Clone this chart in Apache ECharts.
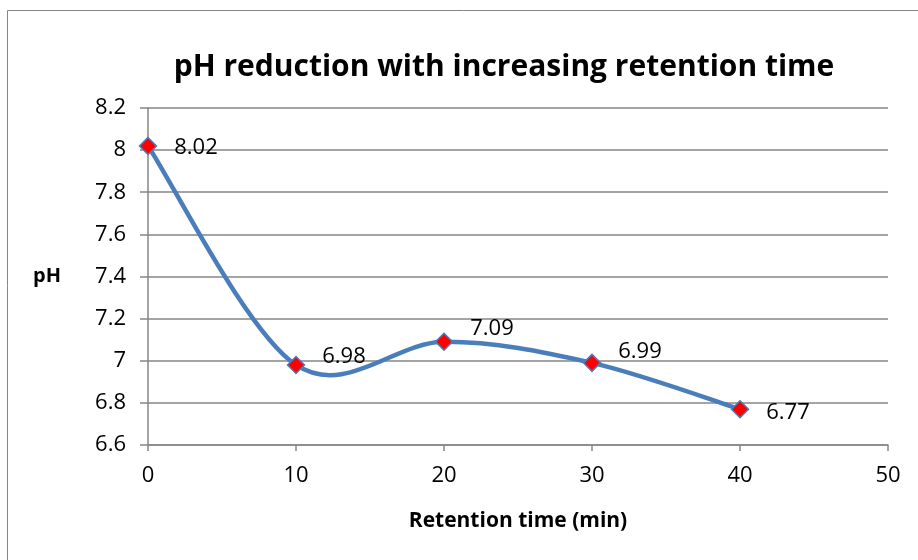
<!DOCTYPE html>
<html><head><meta charset="utf-8">
<script src="https://cdn.jsdelivr.net/npm/echarts@6/dist/echarts.min.js"></script>
<style>html,body{margin:0;padding:0;background:#fff}#c{width:918px;height:560px}</style>
</head><body><div id="c"></div>
<script>
const times = [0, 10, 20, 30, 40];
const phValues = [8.02, 6.98, 7.09, 6.99, 6.77];
const labelOffsets = [[0, 2], [0, -8], [0, -13], [0, -11], [0, 4]];
const titleText = 'pH reduction with increasing retention time';
const xName = 'Retention time (min)';
const yName = 'pH';

const chart = echarts.init(document.getElementById('c'), null, {renderer: 'canvas'});
const font = '"Open Sans", "Liberation Sans", sans-serif';
const pairs = times.map((t, i) => [t, phValues[i]]);
const data = pairs.map((p, i) => ({value: p, label: {offset: labelOffsets[i]}}));

// Excel-style smoothed line: Catmull-Rom bezier through pixel positions from the axes
function renderCurve(params, api) {
  if (params.dataIndex !== 0) return null;
  const pts = pairs.map(p => api.coord(p));
  const n = pts.length;
  let d = 'M' + pts[0][0] + ' ' + pts[0][1];
  for (let i = 0; i < n - 1; i++) {
    const p0 = pts[Math.max(i - 1, 0)], p1 = pts[i], p2 = pts[i + 1], p3 = pts[Math.min(i + 2, n - 1)];
    const c1 = [p1[0] + (p2[0] - p0[0]) / 6, p1[1] + (p2[1] - p0[1]) / 6];
    const c2 = [p2[0] - (p3[0] - p1[0]) / 6, p2[1] - (p3[1] - p1[1]) / 6];
    d += ' C' + c1[0] + ' ' + c1[1] + ' ' + c2[0] + ' ' + c2[1] + ' ' + p2[0] + ' ' + p2[1];
  }
  return {type: 'path', shape: {pathData: d},
    style: {fill: 'none', stroke: '#4a7ebb', lineWidth: 4.5, lineCap: 'round', lineJoin: 'round'}};
}

chart.setOption({
  animation: false,
  backgroundColor: '#fff',
  graphic: [{type: 'rect', shape: {x: 7.5, y: 10.5, width: 940, height: 600}, style: {fill: 'none', stroke: '#868686', lineWidth: 1}}],
  title: {text: titleText, left: 499, top: 47, textAlign: 'center',
    textStyle: {fontFamily: font, fontWeight: 'bold', fontSize: 30, color: '#000'}},
  grid: {left: 148, right: 30, top: 108, bottom: 115},
  xAxis: {type: 'value', min: 0, max: 50, interval: 10,
    name: xName, nameLocation: 'middle', nameGap: 66,
    nameTextStyle: {fontFamily: font, fontWeight: 'bold', fontSize: 21, color: '#000'},
    axisLine: {lineStyle: {color: '#868686', width: 1.5}},
    axisTick: {show: true, length: 6, lineStyle: {color: '#868686', width: 1.5}},
    axisLabel: {fontFamily: font, fontSize: 22, color: '#000', margin: 20},
    splitLine: {show: false}},
  yAxis: {type: 'value', min: 6.6, max: 8.2, interval: 0.2,
    name: yName, nameLocation: 'middle', nameGap: 87, nameRotate: 0,
    nameTextStyle: {fontFamily: font, fontWeight: 'bold', fontSize: 20, color: '#000'},
    axisLine: {show: true, lineStyle: {color: '#868686', width: 1.5}},
    axisTick: {show: true, length: 8, lineStyle: {color: '#868686', width: 1.5}},
    axisLabel: {fontFamily: font, fontSize: 22, color: '#000', margin: 22,
      formatter: v => String(+v.toFixed(1))},
    splitLine: {show: true, lineStyle: {color: '#868686', width: 1.5}}},
  series: [{
    type: 'custom', data: pairs, renderItem: renderCurve, z: 2, silent: true
  }, {
    type: 'line', data: data, z: 3,
    lineStyle: {opacity: 0, width: 0},
    symbol: 'diamond', symbolSize: 17,
    itemStyle: {color: '#ff0000', borderColor: '#4a7ebb', borderWidth: 1.5},
    label: {show: true, position: 'right', distance: 17, fontFamily: font, fontSize: 22, color: '#000',
      formatter: p => p.value[1].toFixed(2)}
  }]
});
</script></body></html>
